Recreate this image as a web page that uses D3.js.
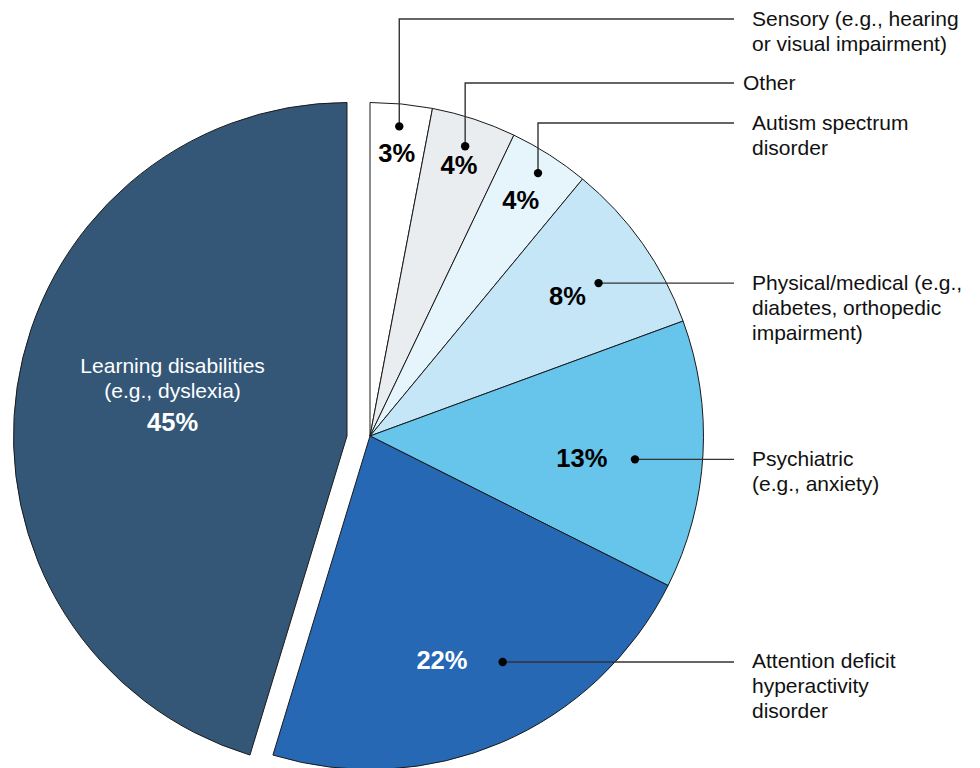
<!DOCTYPE html>
<html>
<head>
<meta charset="utf-8">
<script src="https://cdn.jsdelivr.net/npm/d3@7"></script>
<style>
body { margin: 0; background: #fff; }
text { font-family: "Liberation Sans", Arial, sans-serif; }
</style>
</head>
<body>
<div id="chart"></div>
<script>
var categories = ['Sensory', 'Other', 'Autism', 'Physical', 'Psychiatric', 'ADHD', 'Learning'];
var shares = [3.0, 4.1, 3.9, 8.4, 13.0, 22.3, 45.3];
var names = [
    ['Sensory (e.g., hearing', 'or visual impairment)'],
    ['Other'],
    ['Autism spectrum', 'disorder'],
    ['Physical/medical (e.g.,', 'diabetes, orthopedic', 'impairment)'],
    ['Psychiatric', '(e.g., anxiety)'],
    ['Attention deficit', 'hyperactivity', 'disorder'],
    ['Learning disabilities', '(e.g., dyslexia)']];

var color = {
    'Sensory': '#ffffff',
    'Other': '#e9edf0',
    'Autism': '#e6f4fb',
    'Physical': '#c4e6f6',
    'Psychiatric': '#67c4ea',
    'ADHD': '#2668b4',
    'Learning': '#345778'
};

// label placement: tr/ta = percent text radius / angle shift (deg), dr/da = callout dot, ny = name line y
var layout = {
    'Sensory':     {tr: 284, ta: 0,    dr: 311, da: 0,    ny: 19},
    'Other':       {tr: 285, ta: 0,    dr: 305, da: 0,    ny: 83, nx: -9},
    'Autism':      {tr: 280, ta: 0,    dr: 312, da: 0,    ny: 123},
    'Physical':    {tr: 242, ta: 0,    dr: 275, da: 1.5},
    'Psychiatric': {tr: 213, ta: 2.7,  dr: 266, da: 1.8},
    'ADHD':        {tr: 235, ta: 5.4,  dr: 262, da: -7.2},
    'Learning':    {tr: 175, ta: -3.8, explode: 23, inside: true}
};

var width = 980, height = 768, R = 333.5;
var cx = 370, cy = 436, lineEnd = 734, nameX = 752;

var data = categories.map(function(c, i) {
    return {key: c, value: shares[i], lines: names[i]};
});

var svg = d3.select("#chart").append("svg").attr("width", width).attr("height", height);
var g = svg.append("g").attr("transform", "translate(" + cx + "," + cy + ")");

var pie = d3.pie().sort(null).value(d => d.value);
var arc = d3.arc().innerRadius(0).outerRadius(R);
var rad = d3.scaleLinear().domain([0, 360]).range([0, 2 * Math.PI]);
var fmt = d3.format(".0f");

var slices = g.selectAll(".slice").data(pie(data)).enter().append("g")
    .attr("class", "slice")
    .attr("transform", d => "translate(" + (-(layout[d.data.key].explode || 0)) + ",0)");

slices.append("path")
    .attr("d", arc)
    .attr("fill", d => color[d.data.key])
    .attr("stroke", "#1a1a1a")
    .attr("stroke-width", 1);

function mid(d) { return (d.startAngle + d.endAngle) / 2; }

// callout lines and dots
slices.filter(d => !layout[d.data.key].inside).each(function(d) {
    var L = layout[d.data.key];
    var p = d3.pointRadial(mid(d) + rad(L.da), L.dr);
    var ny = L.ny !== undefined ? L.ny - cy : p[1];
    var sel = d3.select(this);
    sel.append("path")
        .attr("d", d3.line()([p, [p[0], ny], [lineEnd - cx, ny]]))
        .attr("fill", "none")
        .attr("stroke", "#333")
        .attr("stroke-width", 1.4);
    sel.append("circle").attr("cx", p[0]).attr("cy", p[1]).attr("r", 4.2).attr("fill", "#000");
    var t = sel.append("text")
        .attr("x", nameX - cx + (L.nx || 0))
        .attr("y", ny + 6.5)
        .attr("font-size", 21)
        .attr("fill", "#111");
    d.data.lines.forEach(function(s, i) {
        t.append("tspan").attr("x", nameX - cx + (L.nx || 0)).attr("dy", i ? 25 : 0).text(s);
    });
});

// percent labels
slices.each(function(d) {
    var L = layout[d.data.key];
    var p = d3.pointRadial(mid(d) + rad(L.ta), L.tr);
    var fill = d3.hsl(color[d.data.key]).l < 0.5 ? "#fff" : "#000";
    var sel = d3.select(this);
    sel.append("text")
        .attr("x", p[0]).attr("y", p[1])
        .attr("dy", "0.35em")
        .attr("text-anchor", "middle")
        .attr("font-size", 25.5)
        .attr("font-weight", "bold")
        .attr("fill", fill)
        .text(fmt(d.data.value) + "%");
    if (L.inside) {
        sel.selectAll(".inner").data(d.data.lines).enter().append("text")
            .attr("class", "inner")
            .attr("x", p[0])
            .attr("y", (s, i) => p[1] - 48.5 + i * 25)
            .attr("text-anchor", "middle")
            .attr("font-size", 21)
            .attr("fill", fill)
            .text(s => s);
    }
});
</script>
</body>
</html>
